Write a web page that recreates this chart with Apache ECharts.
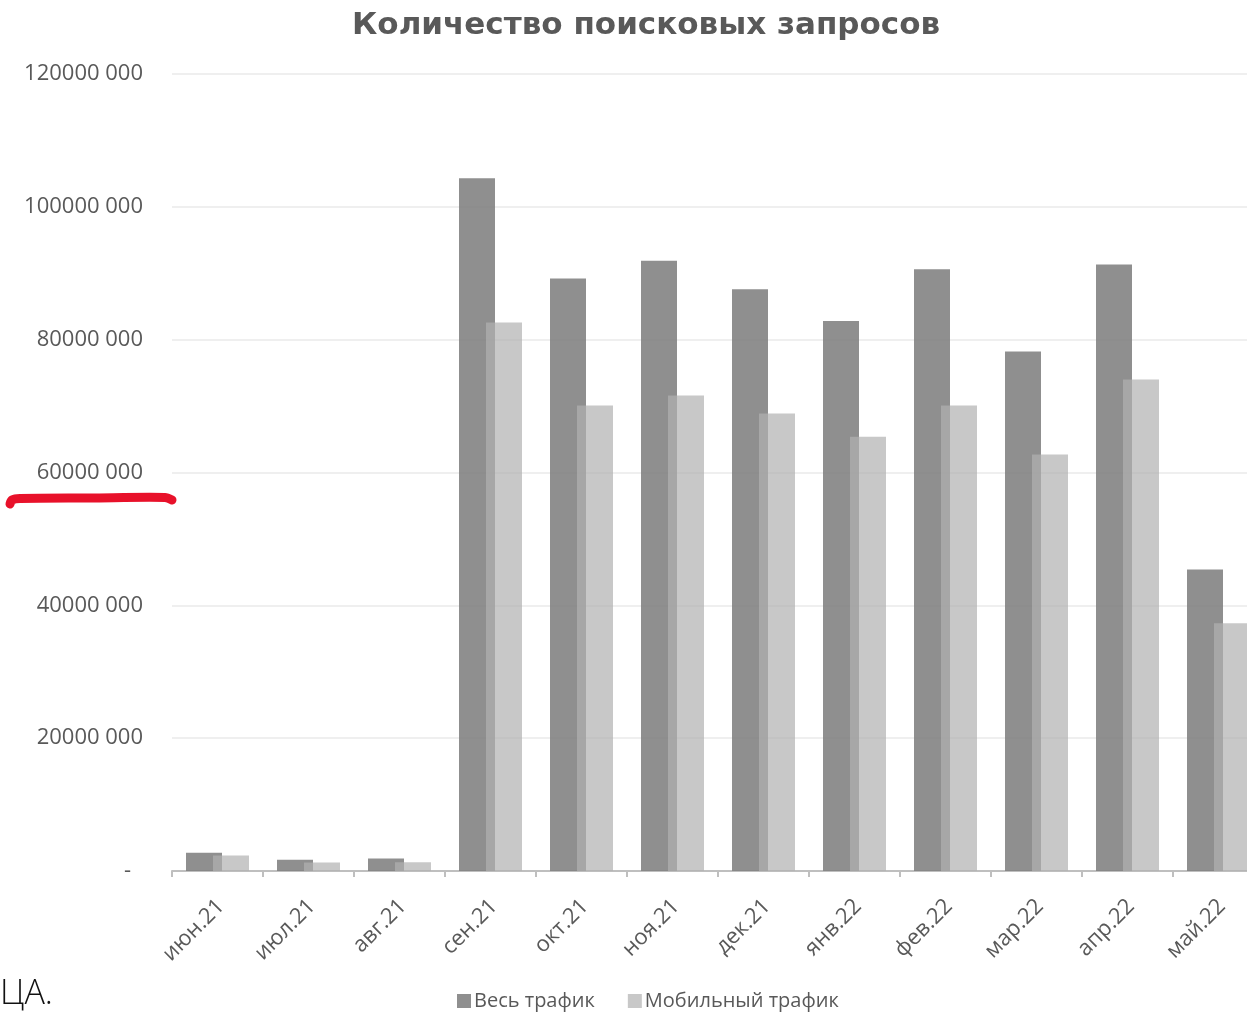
<!DOCTYPE html>
<html><head><meta charset="utf-8">
<script src="https://cdn.jsdelivr.net/npm/echarts@6/dist/echarts.min.js"></script>
<style>html,body{margin:0;padding:0;background:#fff;overflow:hidden;width:1247px;height:1014px}#c{width:1264px;height:1014px}</style>
</head><body><div id="c"></div>
<script>
const categories = ['июн.21','июл.21','авг.21','сен.21','окт.21','ноя.21','дек.21','янв.22','фев.22','мар.22','апр.22','май.22'];
const allTraffic = [2740000,1690000,1880000,104300000,89200000,91900000,87600000,82800000,90600000,78200000,91300000,45400000];
const mobileTraffic = [2330000,1280000,1330000,82600000,70100000,71600000,68900000,65400000,70100000,62700000,74000000,37300000];
const seriesNames = ['Весь трафик','Мобильный трафик'];
const titleText = 'Количество поисковых запросов';
const noteText = 'ЦА.';

const FONT = '"Open Sans", "Noto Sans", sans-serif';
const chart = echarts.init(document.getElementById('c'), null, {renderer:'canvas'});
chart.setOption({
  animation:false,
  backgroundColor:'#fff',
  title:{text:titleText,left:347,top:5,textStyle:{fontFamily:'"DejaVu Sans", sans-serif',fontWeight:'bold',fontSize:31,color:'#595959'}},
  legend:{data:seriesNames,left:452,top:986,itemWidth:14,itemHeight:14,itemGap:33,icon:'rect',
    textStyle:{fontFamily:FONT,fontSize:20,color:'#595959',padding:[0,0,0,-2]}},
  grid:{left:172,top:74,right:0,height:797,containLabel:false},
  xAxis:{type:'category',data:categories,
    axisLine:{lineStyle:{color:'#bfbfbf',width:2}},
    axisTick:{show:true,length:6,lineStyle:{color:'#bfbfbf',width:2}},
    axisLabel:{rotate:45,margin:20,verticalAlign:'top',padding:[0,6,0,0],fontFamily:FONT,fontSize:22,color:'#595959'}},
  yAxis:{type:'value',min:0,max:120000000,interval:20000000,
    axisLine:{show:false},axisTick:{show:false},
    splitLine:{lineStyle:{color:'#efefef',width:2}},
    axisLabel:{margin:29,fontFamily:FONT,fontSize:22,color:'#595959',
      formatter:function(v){return v===0?'{d|-}':(v/1000)+' 000';},
      rich:{d:{fontFamily:FONT,fontSize:22,color:'#595959',padding:[0,12,0,0]}}}},
  series:[
    {name:seriesNames[0],type:'bar',data:allTraffic,barWidth:36,barGap:'-25%',
     itemStyle:{color:'rgba(128,128,128,0.88)'}},
    {name:seriesNames[1],type:'bar',data:mobileTraffic,barWidth:36,
     itemStyle:{color:'rgba(176,176,176,0.7)'}}
  ],
  graphic:[
    {type:'text',left:0,top:977,style:{text:noteText,fontFamily:'"Open Sans", sans-serif',fontWeight:300,fontSize:34,fill:'#111'}},
    {type:'polyline',shape:{points:[[10,504],[12,500],[20,498.5],[90,498],[165,497.5],[172,500]],smooth:0.3},
     style:{stroke:'#e8112a',lineWidth:9,lineCap:'round',lineJoin:'round',fill:null}}
  ]
});
</script></body></html>
